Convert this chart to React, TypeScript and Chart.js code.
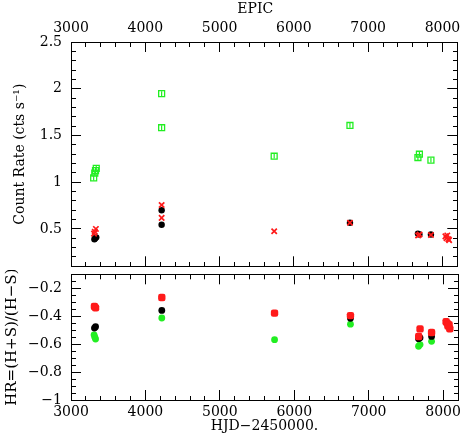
import React, { useEffect, useRef } from 'react';
import { Chart, registerables } from 'chart.js';

Chart.register(...registerables);

// ---- axis ranges / ticks ----
const X_MIN = 3000;
const X_MAX = 8200;
const X_MINOR = 200;
const X_LABELS = [3000, 4000, 5000, 6000, 7000, 8000];

const CR_MIN = 0.1;
const CR_MAX = 2.5;
const CR_MINOR = 0.1;
const CR_LABELS = [0.5, 1, 1.5, 2, 2.5];

const HR_MIN = -1;
const HR_MAX = -0.1;
const HR_MINOR = 0.05;
const HR_LABELS = [-1, -0.8, -0.6, -0.4, -0.2];

// ---- top panel: count rate ----
const CR_BLACK_X = [3315, 3325, 3340, 4220, 4220, 6755, 7670, 7690, 7845];
const CR_BLACK_Y = [0.39, 0.40, 0.41, 0.70, 0.545, 0.566, 0.45, 0.44, 0.44];

const CR_RED_X = [3310, 3320, 3335, 4220, 4220, 5735, 6755, 7672, 7692, 7845, 8040, 8055, 8065, 8080, 8090];
const CR_RED_Y = [0.45, 0.47, 0.50, 0.756, 0.618, 0.475, 0.566, 0.43, 0.44, 0.435, 0.42, 0.40, 0.43, 0.39, 0.38];

const CR_GREEN_X = [3305, 3320, 3330, 3340, 4220, 4220, 5735, 6755, 7670, 7690, 7845];
const CR_GREEN_Y = [1.045, 1.097, 1.125, 1.149, 1.948, 1.583, 1.278, 1.607, 1.264, 1.299, 1.236];

// ---- bottom panel: hardness ratio ----
const HR_RED_X = [3315, 3330, 4220, 5735, 6755, 7672, 7690, 7845, 8040, 8055, 8065, 8080, 8090];
const HR_RED_Y = [-0.33, -0.34, -0.266, -0.378, -0.396, -0.545, -0.491, -0.517, -0.44, -0.45, -0.47, -0.46, -0.49];

const HR_BLACK_X = [3315, 3330, 4220, 6755, 7670, 7690, 7845];
const HR_BLACK_Y = [-0.485, -0.475, -0.359, -0.415, -0.561, -0.555, -0.545];

const HR_GREEN_X = [3310, 3320, 3330, 4220, 5735, 6755, 7670, 7690, 7845];
const HR_GREEN_Y = [-0.533, -0.55, -0.564, -0.413, -0.568, -0.457, -0.615, -0.603, -0.58];

// ---- helpers ----
const zip = (xs: number[], ys: number[]) => xs.map((x, i) => ({ x, y: ys[i] }));
const isIn = (list: number[]) => (v: number) => list.some((m) => Math.abs(m - v) < 1e-6);

const FONT = { family: 'DejaVu Serif', size: 14 };
const BLACK = '#000000';
const RED = '#ff1a1a';
const GREEN = '#22ee22';

const fixSize = (size: number) => (scale: any) => {
  if (scale.isHorizontal()) scale.height = size;
  else scale.width = size;
  scale.paddingLeft = 0;
  scale.paddingRight = 0;
  scale.paddingTop = 0;
  scale.paddingBottom = 0;
};

// borderFirst: tick mark path starts on the frame (bottom / right axes)
const grid = (isMajor: (v: number) => boolean, borderFirst: boolean) => ({
  display: true,
  drawOnChartArea: false,
  drawTicks: true,
  tickLength: -10,
  tickColor: BLACK,
  tickWidth: 1,
  tickBorderDash: (c: any) =>
    c.tick && isMajor(c.tick.value) ? [] : borderFirst ? [5, 100] : [5, 5],
  tickBorderDashOffset: (c: any) =>
    c.tick && isMajor(c.tick.value) ? 0 : borderFirst ? 0 : 5,
});

const border = { display: true, color: BLACK, width: 1 };

function xAxis(position: 'top' | 'bottom', size: number, labels: boolean, pad: number, title?: any) {
  const major = isIn(X_LABELS);
  return {
    type: 'linear',
    axis: 'x',
    position,
    min: X_MIN,
    max: X_MAX,
    border,
    grid: grid(major, position === 'bottom'),
    ticks: {
      display: labels,
      stepSize: X_MINOR,
      includeBounds: false,
      autoSkip: false,
      maxRotation: 0,
      minRotation: 0,
      padding: pad,
      color: BLACK,
      font: FONT,
      callback: (v: number) => (major(v) ? String(Math.round(v)) : ''),
    },
    title: title || { display: false },
    afterFit: fixSize(size),
  };
}

function yAxis(
  position: 'left' | 'right',
  size: number,
  min: number,
  max: number,
  step: number,
  majorList: number[],
  labels: boolean,
  title?: any
) {
  const major = isIn(majorList);
  return {
    type: 'linear',
    axis: 'y',
    position,
    min,
    max,
    border,
    grid: grid(major, position === 'right'),
    ticks: {
      display: labels,
      stepSize: step,
      includeBounds: false,
      autoSkip: false,
      padding: 19,
      color: BLACK,
      font: FONT,
      callback: (v: number) => {
        if (!major(v)) return '';
        const r = Math.round(v * 10) / 10;
        return (r < 0 ? '\u2212' : '') + String(Math.abs(r));
      },
    },
    title: title || { display: false },
    afterFit: fixSize(size),
  };
}

const commonOptions = {
  responsive: false,
  animation: false,
  events: [],
  layout: { padding: 0 },
  plugins: { legend: { display: false }, tooltip: { enabled: false } },
};

function topConfig(): any {
  const green = zip(CR_GREEN_X, CR_GREEN_Y);
  return {
    type: 'scatter',
    data: {
      datasets: [
        {
          data: zip(CR_RED_X, CR_RED_Y),
          pointStyle: 'crossRot',
          pointRadius: 3.8,
          borderColor: RED,
          backgroundColor: RED,
          borderWidth: 1.7,
        },
        {
          data: zip(CR_BLACK_X, CR_BLACK_Y),
          pointStyle: 'circle',
          pointRadius: 3.2,
          borderColor: BLACK,
          backgroundColor: BLACK,
          borderWidth: 0,
        },
        {
          data: green,
          pointStyle: 'line',
          rotation: 90,
          pointRadius: 2.4,
          borderColor: GREEN,
          borderWidth: 1.2,
        },
        {
          data: green,
          pointStyle: 'rect',
          pointRadius: 4.2,
          borderColor: GREEN,
          backgroundColor: 'rgba(0,0,0,0)',
          borderWidth: 1.3,
        },
      ],
    },
    options: {
      ...commonOptions,
      scales: {
        x: xAxis('bottom', 1, false, 0),
        x2: xAxis('top', 42, true, 15, {
          display: true,
          text: 'EPIC    ',
          color: BLACK,
          font: FONT,
          padding: { top: 1, bottom: 0 },
        }),
        y: yAxis('left', 71, CR_MIN, CR_MAX, CR_MINOR, CR_LABELS, true, {
          display: true,
          text: 'Count Rate (cts s\u207B\u00B9)',
          color: BLACK,
          font: FONT,
          padding: { top: 12, bottom: 0 },
        }),
        yR: yAxis('right', 5, CR_MIN, CR_MAX, CR_MINOR, CR_LABELS, false),
      },
    },
  };
}

function bottomConfig(): any {
  return {
    type: 'scatter',
    data: {
      datasets: [
        {
          data: zip(HR_RED_X, HR_RED_Y),
          pointStyle: 'rectRounded',
          pointRadius: 4.3,
          borderColor: RED,
          backgroundColor: RED,
          borderWidth: 0,
        },
        {
          data: zip(HR_BLACK_X, HR_BLACK_Y),
          pointStyle: 'circle',
          pointRadius: 3.4,
          borderColor: BLACK,
          backgroundColor: BLACK,
          borderWidth: 0,
        },
        {
          data: zip(HR_GREEN_X, HR_GREEN_Y),
          pointStyle: 'circle',
          pointRadius: 3.4,
          borderColor: GREEN,
          backgroundColor: GREEN,
          borderWidth: 0,
        },
      ],
    },
    options: {
      ...commonOptions,
      scales: {
        x: xAxis('bottom', 43, true, 14, {
          display: true,
          text: 'HJD\u22122450000.',
          color: BLACK,
          font: FONT,
          padding: { top: 0, bottom: 8 },
        }),
        xT: xAxis('top', 1, false, 0),
        y: yAxis('left', 71, HR_MIN, HR_MAX, HR_MINOR, HR_LABELS, true, {
          display: true,
          text: 'HR=(H+S)/(H\u2212S)',
          color: BLACK,
          font: { family: 'DejaVu Serif', size: 15 },
          padding: { top: 3, bottom: 0 },
        }),
        yR: yAxis('right', 5, HR_MIN, HR_MAX, HR_MINOR, HR_LABELS, false),
      },
    },
  };
}

export default function App() {
  const topRef = useRef<HTMLCanvasElement | null>(null);
  const botRef = useRef<HTMLCanvasElement | null>(null);

  useEffect(() => {
    const charts: Chart[] = [];
    if (topRef.current) charts.push(new Chart(topRef.current, topConfig()));
    if (botRef.current) charts.push(new Chart(botRef.current, bottomConfig()));
    return () => charts.forEach((c) => c.destroy());
  }, []);

  return (
    <div
      style={{
        position: 'absolute',
        left: 0,
        top: 0,
        width: 463,
        height: 443,
        background: '#ffffff',
        overflow: 'hidden',
      }}
    >
      <canvas
        ref={botRef}
        width={463}
        height={173}
        style={{ position: 'absolute', left: 0, top: 270, width: 463, height: 173 }}
      />
      <canvas
        ref={topRef}
        width={463}
        height={272}
        style={{ position: 'absolute', left: 0, top: 0, width: 463, height: 272 }}
      />
    </div>
  );
}
